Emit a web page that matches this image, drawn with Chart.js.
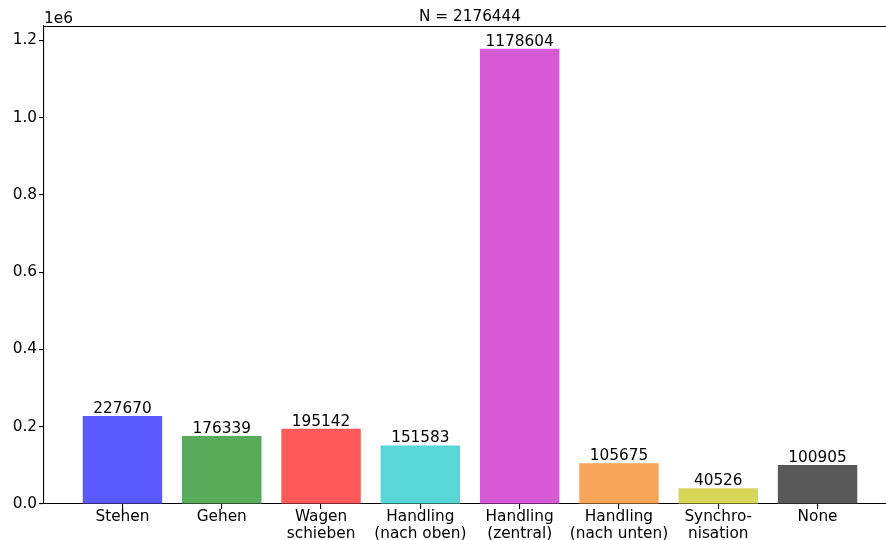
<!DOCTYPE html>
<html>
<head>
<meta charset="utf-8">
<script src="https://cdn.jsdelivr.net/npm/chart.js@4/dist/chart.umd.min.js"></script>
<style>
  html, body { margin: 0; padding: 0; overflow: hidden; background: #fff; }
  #wrap { width: 896px; height: 540px; }
  canvas { display: block; }
</style>
</head>
<body>
<div id="wrap"><canvas id="activityChart" width="896" height="540"></canvas></div>
<script>
// activity classes and sample counts
var activityLabels = ["Stehen", "Gehen", ["Wagen", "schieben"], ["Handling", "(nach oben)"],
    ["Handling", "(zentral)"], ["Handling", "(nach unten)"], ["Synchro-", "nisation"], "None"];
var activityCounts = [227670, 176339, 195142, 151583, 1178604, 105675, 40526, 100905];
var barColors = ["rgb(89,89,255)", "rgb(89,171,89)", "rgb(255,89,89)", "rgb(89,214,214)",
    "rgb(214,89,214)", "rgb(248,164,89)", "rgb(214,214,89)", "rgb(89,89,89)"];
var yTicks = [0, 200000, 400000, 600000, 800000, 1000000, 1200000];
var totalCount = 2176444;

var FONT = "'DejaVu Sans', sans-serif";
var yMax = Math.max.apply(null, activityCounts) * 1.05;
var xPad = 0.79;

// value labels above bars, offset text, title and top spine
var annotations = {
    id: "annotations",
    afterDatasetsDraw: function (chart) {
        var ctx = chart.ctx;
        var area = chart.chartArea;
        var meta = chart.getDatasetMeta(0);
        ctx.save();
        ctx.fillStyle = "#000";
        ctx.font = "15.3px " + FONT;
        ctx.textAlign = "center";
        ctx.textBaseline = "alphabetic";
        meta.data.forEach(function (bar, i) {
            ctx.fillText(String(activityCounts[i]), bar.x, bar.y - 3);
        });
        ctx.fillText("N = " + totalCount, (area.left + area.right) / 2, 21);
        ctx.textAlign = "left";
        ctx.fillText("1e6", area.left, 23);
        ctx.strokeStyle = "#000";
        ctx.lineWidth = 1.1;
        ctx.beginPath();
        ctx.moveTo(area.left, area.top + 0.5);
        ctx.lineTo(area.right, area.top + 0.5);
        ctx.stroke();
        ctx.restore();
    }
};

new Chart(document.getElementById("activityChart"), {
    type: "bar",
    data: {
        datasets: [{
            data: activityCounts.map(function (v, i) { return {x: i, y: v}; }),
            backgroundColor: barColors,
            borderWidth: 0,
            barPercentage: 0.8,
            categoryPercentage: 1.0
        }]
    },
    options: {
        responsive: false,
        animation: false,
        layout: {padding: {top: 26, left: 0, right: 0, bottom: 0}},
        plugins: {legend: {display: false}, tooltip: {enabled: false}},
        scales: {
            x: {
                type: "linear",
                offset: false,
                min: -xPad,
                max: activityCounts.length - 1 + xPad,
                afterBuildTicks: function (scale) {
                    scale.ticks = activityLabels.map(function (l, i) { return {value: i}; });
                },
                afterFit: function (scale) { scale.height = 36; },
                ticks: {
                    autoSkip: false,
                    maxRotation: 0,
                    padding: 0,
                    color: "#000",
                    font: {family: FONT, size: 15.3, lineHeight: 1.1},
                    callback: function (v) { return activityLabels[v]; }
                },
                grid: {offset: false, drawOnChartArea: false, drawTicks: true, tickLength: 5, color: "#000", lineWidth: 1.1},
                border: {display: true, color: "#000", width: 1.1}
            },
            y: {
                min: 0,
                max: yMax,
                afterBuildTicks: function (scale) {
                    scale.ticks = yTicks.map(function (v) { return {value: v}; });
                },
                afterFit: function (scale) { scale.width = 44; },
                ticks: {
                    padding: 2,
                    color: "#000",
                    font: {family: FONT, size: 15.3},
                    callback: function (v) { return (v / 1e6).toFixed(1); }
                },
                grid: {drawOnChartArea: false, drawTicks: true, tickLength: 5, color: "#000", lineWidth: 1.1},
                border: {display: true, color: "#000", width: 1.1}
            }
        }
    },
    plugins: [annotations]
});
</script>
</body>
</html>
